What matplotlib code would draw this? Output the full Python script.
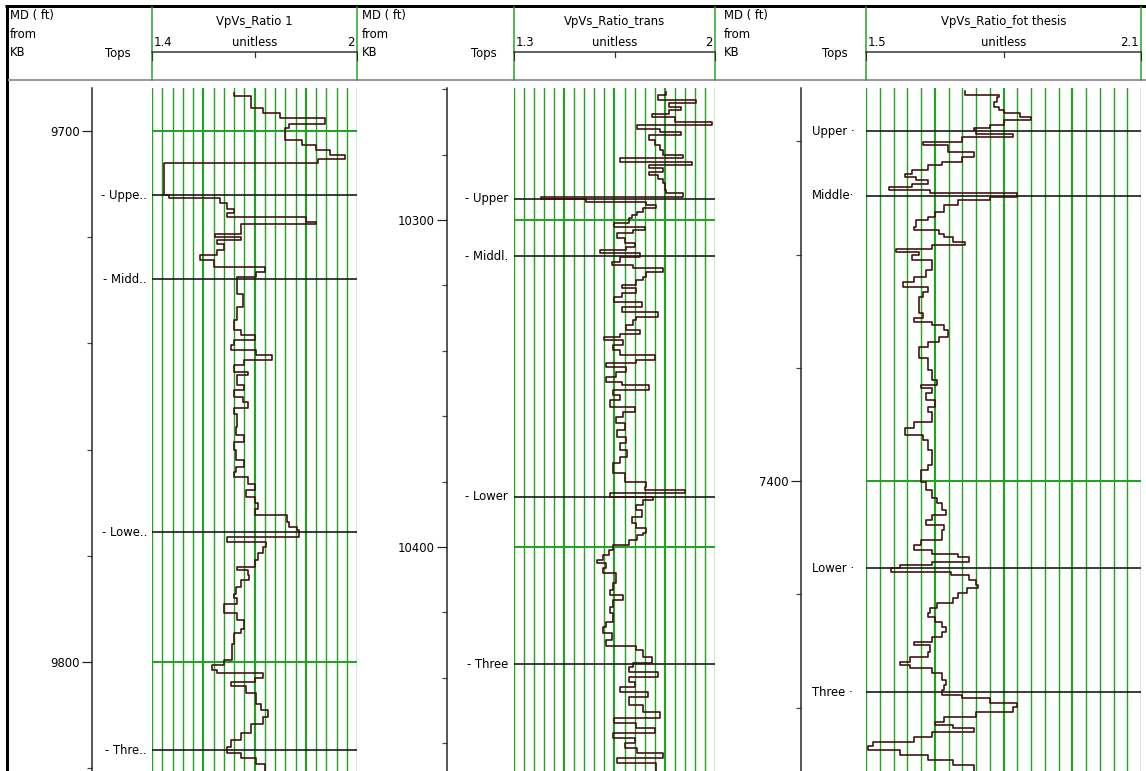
import numpy as np
import matplotlib
matplotlib.use("Agg")
import matplotlib.pyplot as plt
from matplotlib import transforms
from matplotlib.ticker import MultipleLocator

# ---------------- data ----------------
titles = ["VpVs_Ratio 1", "VpVs_Ratio_trans", "VpVs_Ratio_fot thesis"]
scale_min = [1.4, 1.3, 1.5]
scale_max = [2.0, 2.0, 2.1]
scale_min_txt = ["1.4", "1.3", "1.5"]
scale_max_txt = ["2", "2", "2.1"]
units = "unitless"

tops_names_1 = ["- Uppe..", "- Midd..", "- Lowe..", "- Thre.."]
tops_depth_1 = [9712.1, 9727.9, 9775.5, 9816.6]
tops_names_2 = ["- Upper", "- Middl.", "- Lower", "- Three"]
tops_depth_2 = [10293.4, 10311.0, 10384.6, 10435.8]
tops_names_3 = ["Upper \u00b7", "Middle\u00b7", "Lower \u00b7", "Three \u00b7"]
tops_depth_3 = [7338.2, 7349.6, 7415.4, 7437.3]

depth_1 = [9692.8, 9693.5, 9695.7, 9696.7, 9697.6, 9698.6, 9699.5, 9701.7, 9702.6, 9703.6,
           9704.5, 9705.2, 9706.1, 9712.1, 9712.7, 9713.6, 9714.6, 9715.5, 9716.1, 9717.1,
           9717.5, 9719.3, 9719.9, 9720.5, 9721.2, 9722.4, 9723.4, 9724.3, 9725.6, 9726.5,
           9727.4, 9728.1, 9730.6, 9733.1, 9735.6, 9737.5, 9738.4, 9739.4, 9740.3, 9741.2,
           9742.2, 9743.1, 9744.1, 9745.3, 9746.0, 9747.8, 9748.8, 9750.0, 9751.0, 9752.2,
           9753.2, 9755.7, 9757.3, 9758.5, 9760.1, 9762.0, 9763.2, 9764.2, 9765.1, 9766.4,
           9767.6, 9768.9, 9770.1, 9771.1, 9772.3, 9773.6, 9774.5, 9775.1, 9776.4, 9777.3,
           9778.3, 9779.5, 9780.8, 9782.1, 9782.7, 9783.6, 9784.6, 9785.8, 9787.1, 9788.0,
           9789.0, 9790.8, 9792.1, 9793.7, 9794.6, 9796.5, 9799.6, 9800.6, 9801.4, 9802.1,
           9802.9, 9803.7, 9804.5, 9805.9, 9807.8, 9809.0, 9810.3, 9811.6, 9813.4, 9814.7,
           9815.9, 9817.1, 9818.1, 9819.1, 9821.0]
vpvs_1 = [1.64, 1.69, 1.725, 1.775, 1.905, 1.80, 1.79, 1.84, 1.88, 1.92,
          1.965, 1.885, 1.435, 1.45, 1.60, 1.62, 1.64, 1.62, 1.85, 1.88,
          1.66, 1.585, 1.66, 1.59, 1.61, 1.59, 1.54, 1.58, 1.73, 1.705,
          1.65, 1.65, 1.665, 1.65, 1.64, 1.66, 1.70, 1.64, 1.63, 1.705,
          1.75, 1.67, 1.64, 1.68, 1.65, 1.67, 1.64, 1.665, 1.68, 1.64,
          1.65, 1.645, 1.67, 1.64, 1.645, 1.67, 1.645, 1.64, 1.68, 1.70,
          1.675, 1.70, 1.71, 1.70, 1.795, 1.80, 1.825, 1.83, 1.62, 1.735,
          1.725, 1.71, 1.70, 1.65, 1.68, 1.685, 1.66, 1.645, 1.64, 1.65,
          1.61, 1.65, 1.67, 1.66, 1.64, 1.635, 1.61, 1.575, 1.59, 1.725,
          1.70, 1.63, 1.675, 1.705, 1.72, 1.74, 1.725, 1.69, 1.66, 1.63,
          1.62, 1.66, 1.705, 1.73]

depth_2 = [10260.8, 10261.8, 10263.3, 10264.3, 10265.3, 10266.4, 10267.4, 10268.4, 10269.9, 10270.9,
           10272.0, 10273.0, 10274.0, 10275.5, 10277.1, 10278.6, 10280.1, 10281.1, 10282.2, 10283.2,
           10284.2, 10285.2, 10286.2, 10287.3, 10288.8, 10290.8, 10291.8, 10292.9, 10293.7, 10294.4,
           10295.4, 10296.4, 10297.45, 10298.5, 10299.5, 10301.0, 10302.0, 10303.1, 10304.1, 10305.6,
           10307.1, 10308.15, 10309.2, 10310.2, 10311.2, 10312.7, 10313.8, 10314.8, 10315.8, 10317.3,
           10318.35, 10319.9, 10320.9, 10322.4, 10323.45, 10325.0, 10326.5, 10328.0, 10329.6, 10330.6,
           10332.1, 10333.6, 10334.7, 10335.7, 10336.7, 10338.2, 10339.8, 10341.3, 10342.8, 10343.8,
           10344.85, 10346.4, 10347.9, 10349.4, 10350.5, 10352.0, 10353.5, 10355.05, 10357.1, 10358.6,
           10360.1, 10362.2, 10364.2, 10366.3, 10368.3, 10370.3, 10372.4, 10374.4, 10377.5, 10380.0,
           10381.55, 10382.6, 10383.6, 10384.6, 10385.6, 10387.2, 10388.7, 10390.7, 10392.8, 10394.3,
           10395.8, 10396.3, 10397.9, 10399.4, 10400.9, 10402.45, 10404.0, 10405.0, 10406.5, 10408.05,
           10411.1, 10413.15, 10414.7, 10416.2, 10418.25, 10420.3, 10422.8, 10424.4, 10426.4, 10428.4,
           10430.3, 10431.5, 10433.5, 10435.6, 10436.6, 10438.1, 10439.65, 10441.2, 10442.7, 10444.2,
           10445.8, 10448.3, 10450.4, 10452.4, 10453.9, 10455.45, 10457.0, 10458.5, 10460.0, 10461.6,
           10463.1, 10464.6, 10466.2, 10469.0]
vpvs_2 = [1.83, 1.80, 1.935, 1.84, 1.88, 1.84, 1.78, 1.86, 1.99, 1.73,
          1.81, 1.88, 1.77, 1.79, 1.81, 1.82, 1.89, 1.67, 1.92, 1.77,
          1.82, 1.77, 1.80, 1.82, 1.825, 1.83, 1.89, 1.395, 1.55, 1.76,
          1.795, 1.75, 1.73, 1.71, 1.70, 1.65, 1.755, 1.715, 1.66, 1.685,
          1.72, 1.69, 1.60, 1.74, 1.67, 1.64, 1.715, 1.82, 1.76, 1.75,
          1.725, 1.675, 1.725, 1.675, 1.65, 1.745, 1.675, 1.80, 1.725, 1.715,
          1.69, 1.74, 1.67, 1.615, 1.68, 1.645, 1.67, 1.79, 1.725, 1.62,
          1.69, 1.655, 1.62, 1.675, 1.77, 1.645, 1.67, 1.635, 1.72, 1.68,
          1.655, 1.685, 1.66, 1.69, 1.67, 1.695, 1.67, 1.645, 1.685, 1.76,
          1.755, 1.895, 1.635, 1.785, 1.75, 1.725, 1.745, 1.71, 1.725, 1.76,
          1.75, 1.73, 1.70, 1.645, 1.63, 1.61, 1.59, 1.62, 1.61, 1.655,
          1.645, 1.635, 1.68, 1.645, 1.635, 1.645, 1.62, 1.61, 1.64, 1.62,
          1.725, 1.75, 1.78, 1.715, 1.70, 1.80, 1.70, 1.72, 1.67, 1.765,
          1.70, 1.75, 1.81, 1.65, 1.725, 1.79, 1.645, 1.72, 1.685, 1.73,
          1.82, 1.66, 1.795]

depth_3 = [7331.2, 7331.75, 7332.15, 7333.05, 7333.9, 7334.5, 7335.1, 7335.8, 7336.3, 7337.15,
           7337.75, 7338.05, 7338.65, 7339.2, 7340.1, 7340.7, 7341.9, 7342.75, 7343.6, 7344.2,
           7345.0, 7345.7, 7346.3, 7346.9, 7347.5, 7348.05, 7348.65, 7349.2, 7349.8, 7350.4,
           7351.3, 7352.5, 7353.35, 7353.95, 7355.1, 7355.7, 7356.3, 7356.9, 7357.75, 7358.35,
           7358.95, 7359.5, 7360.1, 7361.0, 7362.8, 7363.95, 7364.8, 7365.7, 7366.6, 7367.5,
           7368.35, 7370.4, 7371.3, 7371.9, 7372.5, 7373.35, 7374.5, 7375.4, 7376.3, 7378.35,
           7380.4, 7382.2, 7383.05, 7383.65, 7384.5, 7385.7, 7386.9, 7387.75, 7389.55, 7390.7,
           7391.9, 7392.75, 7394.55, 7397.2, 7398.05, 7400.1, 7401.6, 7403.05, 7403.95, 7405.1,
           7406.0, 7406.9, 7407.75, 7408.65, 7410.4, 7411.3, 7412.2, 7412.8, 7413.45, 7414.25,
           7414.85, 7415.4, 7416.0, 7416.6, 7417.5, 7418.35, 7418.95, 7419.85, 7420.7, 7421.6,
           7422.5, 7423.25, 7423.95, 7424.85, 7425.7, 7426.6, 7427.5, 7428.35, 7428.95, 7430.15,
           7431.0, 7431.9, 7432.5, 7433.05, 7433.95, 7435.15, 7436.0, 7436.9, 7437.8, 7438.35,
           7439.25, 7439.85, 7440.7, 7441.6, 7442.5, 7443.05, 7443.65, 7444.25, 7445.15, 7446.0,
           7446.8, 7447.5, 7448.35, 7449.25, 7450.15, 7452.0]
vpvs_3 = [1.715, 1.79, 1.785, 1.78, 1.79, 1.80, 1.835, 1.86, 1.80, 1.77,
          1.735, 1.74, 1.82, 1.71, 1.625, 1.68, 1.735, 1.71, 1.665, 1.635,
          1.60, 1.585, 1.61, 1.635, 1.60, 1.55, 1.64, 1.83, 1.77, 1.70,
          1.67, 1.65, 1.635, 1.61, 1.605, 1.66, 1.67, 1.69, 1.715, 1.645,
          1.565, 1.615, 1.60, 1.645, 1.63, 1.605, 1.58, 1.635, 1.625, 1.615,
          1.615, 1.625, 1.605, 1.645, 1.67, 1.68, 1.66, 1.635, 1.615, 1.635,
          1.645, 1.655, 1.62, 1.645, 1.63, 1.65, 1.635, 1.645, 1.605, 1.585,
          1.625, 1.635, 1.645, 1.635, 1.62, 1.63, 1.645, 1.655, 1.665, 1.675,
          1.645, 1.63, 1.67, 1.665, 1.62, 1.605, 1.645, 1.70, 1.725, 1.645,
          1.575, 1.555, 1.685, 1.725, 1.74, 1.745, 1.72, 1.70, 1.69, 1.655,
          1.64, 1.635, 1.65, 1.665, 1.675, 1.665, 1.645, 1.605, 1.64, 1.635,
          1.595, 1.575, 1.595, 1.645, 1.665, 1.675, 1.67, 1.665, 1.71, 1.77,
          1.83, 1.82, 1.74, 1.67, 1.65, 1.69, 1.735, 1.645, 1.605, 1.515,
          1.505, 1.575, 1.635, 1.69, 1.735]

# ---------------- layout (pixels) ----------------
W, H = 1146, 771
DATA_TOP = 88
panels = [
    dict(md_x=10, axis_x=92, tops_x=147, tops_ha="right", tops_hdr_x=131, x0=152, x1=357,
         dtop=9691.9, dbot=9820.5, depth=depth_1, vals=vpvs_1,
         tnames=tops_names_1, tdepths=tops_depth_1),
    dict(md_x=362, axis_x=447, tops_x=508, tops_ha="right", tops_hdr_x=497, x0=514, x1=715,
         dtop=10259.6, dbot=10468.5, depth=depth_2, vals=vpvs_2,
         tnames=tops_names_2, tdepths=tops_depth_2),
    dict(md_x=724, axis_x=801, tops_x=812, tops_ha="left", tops_hdr_x=848, x0=866, x1=1141,
         dtop=7330.6, dbot=7451.2, depth=depth_3, vals=vpvs_3,
         tnames=tops_names_3, tdepths=tops_depth_3),
]

GREEN = "#22a322"
CURVE = "#3e0b0b"
FS = 8.4
PT = 0.72  # points per pixel at 100 dpi

fig = plt.figure(figsize=(W / 100, H / 100), dpi=100)
fig.patch.set_facecolor("white")

bg = fig.add_axes([0, 0, 1, 1], zorder=0)
bg.set_xlim(0, W)
bg.set_ylim(H, 0)
bg.axis("off")

# frame lines
bg.plot([5, W], [6, 6], color="black", lw=3 * PT, solid_capstyle="butt")
bg.plot([6.5, 6.5], [5, H], color="black", lw=3 * PT, solid_capstyle="butt")
bg.plot([8, W], [80, 80], color="#9a9a9a", lw=2 * PT, solid_capstyle="butt")

for i, p in enumerate(panels):
    x0, x1 = p["x0"], p["x1"]
    ph = (H - DATA_TOP) / H

    # header texts
    bg.text(p["md_x"], 15, "MD ( ft)", fontsize=FS, ha="left", va="center")
    bg.text(p["md_x"], 34, "from", fontsize=FS, ha="left", va="center")
    bg.text(p["md_x"], 53, "KB", fontsize=FS, ha="left", va="center")
    bg.text(p["tops_hdr_x"], 53, "Tops", fontsize=FS, ha="right", va="center")
    bg.plot([x0, x0], [7, 80], color=GREEN, lw=1.5 * PT)
    bg.plot([x1, x1], [7, 80], color=GREEN, lw=1.5 * PT)
    xc = (x0 + x1) / 2
    bg.text(xc, 21, titles[i], fontsize=FS, ha="center", va="center")
    bg.text(x0 + 2, 42, scale_min_txt[i], fontsize=FS, ha="left", va="center")
    bg.text(xc, 42, units, fontsize=FS, ha="center", va="center")
    bg.text(x1 - 2, 42, scale_max_txt[i], fontsize=FS, ha="right", va="center")
    bg.plot([x0, x1], [52, 52], color="#333333", lw=1.5 * PT)
    for xx in (x0, x1):
        bg.plot([xx, xx], [52, 60], color="#333333", lw=1.2 * PT)
    bg.plot([xc, xc], [52, 57], color="#333333", lw=1.2 * PT)

    # log track
    ax = fig.add_axes([x0 / W, 0, (x1 - x0) / W, ph], zorder=2)
    ax.set_xlim(scale_min[i], scale_max[i])
    ax.set_ylim(p["dbot"], p["dtop"])
    for s in ax.spines.values():
        s.set_visible(False)
    ax.set_xticks([])
    ax.set_yticks([])
    ax.patch.set_alpha(0)
    grid_vals = np.linspace(scale_min[i], scale_max[i], 21)
    for k, gv in enumerate(grid_vals):
        lw = 2.2 if k in (5, 10, 15) else 1.4
        ax.axvline(gv, color=GREEN, lw=lw * PT, zorder=1)
    first = int(np.ceil(p["dtop"] / 100.0)) * 100
    for dd in range(first, int(p["dbot"]) + 1, 100):
        ax.axhline(dd, color=GREEN, lw=2 * PT, zorder=1)
    for td in p["tdepths"]:
        ax.axhline(td, color="#111111", lw=1.6 * PT, zorder=2)
    vals = list(p["vals"]) + [p["vals"][-1]]
    ax.plot(vals, p["depth"], drawstyle="steps-pre", color=CURVE, lw=1.6 * PT, zorder=3,
            clip_on=True)

    # tops labels
    tr = transforms.blended_transform_factory(bg.transData, ax.transData)
    for nm, td in zip(p["tnames"], p["tdepths"]):
        fig.text(p["tops_x"], td, nm, transform=tr, fontsize=FS,
                 ha=p["tops_ha"], va="center")

    # depth axis
    dax = fig.add_axes([p["axis_x"] / W, 0, 0.0001, ph], zorder=1)
    dax.set_ylim(p["dbot"], p["dtop"])
    dax.patch.set_alpha(0)
    for side in ("right", "top", "bottom"):
        dax.spines[side].set_visible(False)
    dax.spines["left"].set_linewidth(1.5 * PT)
    dax.spines["left"].set_color("#222222")
    dax.set_xticks([])
    dax.yaxis.set_major_locator(MultipleLocator(100))
    dax.yaxis.set_minor_locator(MultipleLocator(20))
    dax.yaxis.set_major_formatter(matplotlib.ticker.FuncFormatter(lambda v, pos: "%d" % v))
    dax.tick_params(axis="y", which="major", length=10 * PT, width=1.2 * PT,
                    labelsize=FS, pad=2 * PT, color="#222222")
    dax.tick_params(axis="y", which="minor", length=5 * PT, width=1.2 * PT, color="#444444")

fig.savefig("out.png", dpi=100, facecolor="white")
